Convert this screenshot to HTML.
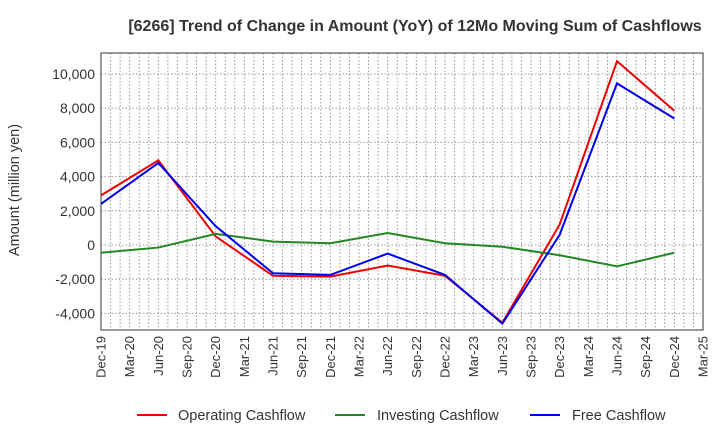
<!DOCTYPE html>
<html><head><meta charset="utf-8"><style>
body{margin:0;background:#fff;font-family:"Liberation Sans",sans-serif}
</style></head><body>
<svg id="chart" width="720" height="440" xmlns="http://www.w3.org/2000/svg" font-family="Liberation Sans, sans-serif">
<text x="415" y="31" text-anchor="middle" font-size="16" font-weight="bold" fill="#333">[6266]  Trend of Change in Amount (YoY) of 12Mo Moving Sum of Cashflows</text>
<text transform="translate(19,190) rotate(-90)" text-anchor="middle" font-size="14.5" fill="#333">Amount (million yen)</text>
<g id="grid"></g><g id="axes"></g><g id="series"></g>
<g font-size="14.5" fill="#333">
<line x1="137" y1="415" x2="167" y2="415" stroke="#e00" stroke-width="2"/><text x="178" y="420">Operating Cashflow</text>
<line x1="335" y1="415" x2="365" y2="415" stroke="#282" stroke-width="2"/><text x="377" y="420">Investing Cashflow</text>
<line x1="530" y1="415" x2="560" y2="415" stroke="#00e" stroke-width="2"/><text x="572" y="420">Free Cashflow</text>
</g>
</svg>
<script>
const xLabels=["Dec-19","Mar-20","Jun-20","Sep-20","Dec-20","Mar-21","Jun-21","Sep-21","Dec-21","Mar-22","Jun-22","Sep-22","Dec-22","Mar-23","Jun-23","Sep-23","Dec-23","Mar-24","Jun-24","Sep-24","Dec-24","Mar-25"];
const yTicks=[-4000,-2000,0,2000,4000,6000,8000,10000];
const pointIdx=[0,2,4,6,8,10,12,14,16,18,20];
const operating=[2900,4950,500,-1800,-1850,-1200,-1800,-4550,1200,10750,7850];
const investing=[-450,-150,650,200,100,700,100,-100,-600,-1250,-450];
const freeCf=[2400,4800,1100,-1650,-1750,-500,-1750,-4600,600,9450,7400];
const L=101,R=703,T=53,B=330;
const x=i=>L+(R-L)*i/(xLabels.length-1);
const y=v=>245-v*34.2/2000;
const NS="http://www.w3.org/2000/svg";
function mk(tag,attrs,parent){const e=document.createElementNS(NS,tag);for(const k in attrs)e.setAttribute(k,attrs[k]);parent.appendChild(e);return e;}
const grid=document.getElementById('grid'),axes=document.getElementById('axes'),ser=document.getElementById('series');
for(let m=1;m<(xLabels.length-1)*3;m++){const gx=L+(R-L)*m/((xLabels.length-1)*3);
const g=mk('line',{x1:gx,x2:gx,y1:T,y2:B,stroke:'#999','stroke-dasharray':'1.5,2','stroke-width':1},grid);

}
yTicks.forEach(v=>{const g=mk('line',{x1:L,x2:R,y1:y(v),y2:y(v),stroke:'#999','stroke-dasharray':'1.5,2'},grid);


const t=mk('text',{x:L-6,y:y(v)+5,'text-anchor':'end','font-size':14,fill:'#333'},axes);t.textContent=v.toLocaleString('en-US');

});
xLabels.forEach((s,i)=>{const t=mk('text',{transform:`translate(${x(i)+4.5},336) rotate(-90)`,'text-anchor':'end','font-size':13,fill:'#333'},axes);t.textContent=s;

});
const fr=mk('rect',{x:L,y:T,width:R-L,height:B-T,fill:'none',stroke:'#333'},axes);


[[operating,'#e00','operating-line'],[investing,'#282','investing-line'],[freeCf,'#00e','free-line']].forEach(([d,c,n])=>{
const p=mk('polyline',{points:d.map((v,k)=>x(pointIdx[k])+','+y(v)).join(' '),fill:'none',stroke:c,'stroke-width':2},ser);

});
</script>
</body></html>
